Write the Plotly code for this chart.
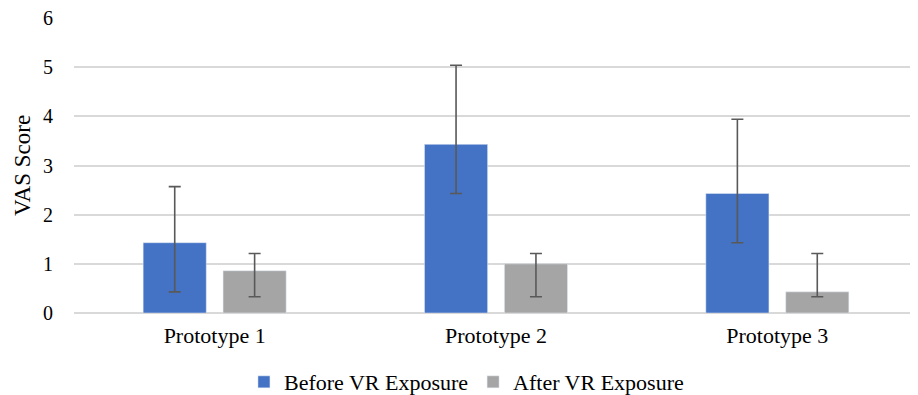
import plotly.graph_objects as go

categories = ["Prototype 1", "Prototype 2", "Prototype 3"]
before_vals = [1.43, 3.43, 2.43]
before_hi = [2.57, 5.04, 3.94]
before_lo = [0.43, 2.43, 1.43]
after_vals = [0.86, 1.00, 0.43]
after_hi = [1.21, 1.21, 1.21]
after_lo = [0.33, 0.33, 0.33]
y_ticks = [0, 1, 2, 3, 4, 5, 6]

FONT = "Times New Roman, Liberation Serif, serif"
ERR = "#595959"

def err(vals, hi, lo):
    return dict(type="data", symmetric=False,
                array=[h - v for h, v in zip(hi, vals)],
                arrayminus=[v - l for v, l in zip(vals, lo)],
                color=ERR, thickness=1.6, width=6)

fig = go.Figure()
fig.add_trace(go.Bar(name="Before VR Exposure", x=categories, y=before_vals,
                     marker=dict(color="#4472C4"),
                     error_y=err(before_vals, before_hi, before_lo)))
fig.add_trace(go.Bar(name="After VR Exposure", x=categories, y=after_vals,
                     marker=dict(color="#A5A5A5"),
                     error_y=err(after_vals, after_hi, after_lo)))

fig.update_layout(
    width=910, height=387,
    margin=dict(l=66, r=0, t=10, b=82, autoexpand=False),
    paper_bgcolor="white", plot_bgcolor="white",
    barmode="group", bargap=0.432, bargroupgap=0.21,
    font=dict(family=FONT, size=20, color="#000000"),
    showlegend=True,
    legend=dict(orientation="h", x=0.465, xanchor="center", y=-0.234, yanchor="middle",
                font=dict(family=FONT, size=22, color="#000000"),
                itemwidth=30, traceorder="normal"),
    xaxis=dict(showgrid=False, showline=False, ticks="outside", ticklen=3,
               tickcolor="rgba(0,0,0,0)", automargin=False,
               tickfont=dict(family=FONT, size=22, color="#000000")),
    yaxis=dict(range=[0, 6], tickvals=y_ticks, showgrid=True, gridcolor="#D9D9D9",
               gridwidth=1.5, zeroline=True, zerolinecolor="#D9D9D9", zerolinewidth=1.5,
               showline=False, ticks="outside", ticklen=16, tickcolor="rgba(0,0,0,0)",
               automargin=False, ticklabeloverflow="allow",
               tickfont=dict(family=FONT, size=20, color="#000000"),
               title=dict(text="VAS Score", font=dict(family=FONT, size=23, color="#000000"),
                          standoff=5)),
)

fig.write_html("out.html")
